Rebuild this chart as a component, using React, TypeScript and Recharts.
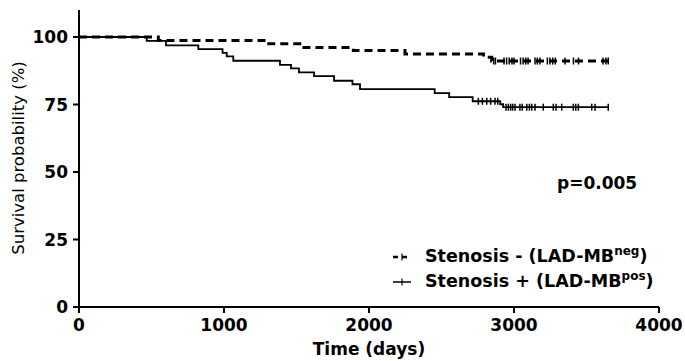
import {
  ComposedChart,
  Line,
  Scatter,
  XAxis,
  YAxis,
} from "recharts";

// Kaplan-Meier steps (days, survival %)
const negTimes = [0, 547, 1294, 1536, 1892, 2248, 2790, 2846, 3650];
const negSurv = [100, 98.7, 97.5, 96.1, 95.0, 93.7, 92.5, 91.1, 91.1];

const posTimes = [
  0, 467, 600, 823, 990, 1019, 1064, 1386, 1462, 1517, 1621, 1759, 1886, 1938,
  2453, 2553, 2715, 2905, 2925, 3650,
];
const posSurv = [
  100, 98.6, 96.9, 95.5, 94.1, 92.8, 91.2, 89.7, 88.4, 86.9, 85.5, 83.8, 82.5,
  80.7, 79.2, 77.7, 76.2, 75.1, 74.0, 74.0,
];

// censored observations
const negCensorTimes = [
  2860, 2872, 2931, 2949, 2967, 2986, 3000, 3045, 3063, 3081, 3097, 3145, 3161,
  3179, 3230, 3248, 3267, 3285, 3352, 3410, 3445, 3614, 3634, 3650,
];
const negCensorLevel = 91.1;

const posCensorEarlyTimes = [2754, 2782, 2812, 2839, 2869, 2888];
const posCensorEarlyLevel = 76.2;
const posCensorLateTimes = [
  2945, 2961, 2977, 2991, 3007, 3041, 3057, 3088, 3106, 3122, 3145, 3202, 3271,
  3290, 3329, 3409, 3426, 3444, 3536, 3559, 3650,
];
const posCensorLateLevel = 74.0;

const xTicks = [0, 1000, 2000, 3000, 4000];
const yTicks = [0, 25, 50, 75, 100];

const negData = negTimes.map((t, i) => ({ t, s: negSurv[i] }));
const posData = posTimes.map((t, i) => ({ t, s: posSurv[i] }));
const negCensor = negCensorTimes.map((t) => ({ t, s: negCensorLevel }));
const posCensor = [
  ...posCensorEarlyTimes.map((t) => ({ t, s: posCensorEarlyLevel })),
  ...posCensorLateTimes.map((t) => ({ t, s: posCensorLateLevel })),
];

const FONT = "'DejaVu Sans', sans-serif";

function CensorTick(props: any) {
  const { cx, cy } = props;
  if (cx == null || cy == null) return null;
  return (
    <line x1={cx} x2={cx} y1={cy - 3.5} y2={cy + 3.5} stroke="#000" strokeWidth={1.5} />
  );
}

function LegendBox() {
  const rows = [
    { dashed: true, text: "Stenosis - (LAD-MB", sup: "neg" },
    { dashed: false, text: "Stenosis + (LAD-MB", sup: "pos" },
  ];
  return (
    <div style={{ fontFamily: FONT, fontWeight: "bold", fontSize: 17.5, color: "#000" }}>
      {rows.map((r) => (
        <div key={r.sup} style={{ height: 25, lineHeight: "25px", whiteSpace: "nowrap", display: "flex", alignItems: "center" }}>
          <svg width={30} height={25} style={{ flex: "none" }}>
            <line
              x1={3}
              x2={21}
              y1={12}
              y2={12}
              stroke="#000"
              strokeWidth={r.dashed ? 2.5 : 1.5}
              strokeDasharray={r.dashed ? "5 4" : undefined}
            />
            <line x1={12} x2={12} y1={8.5} y2={15.5} stroke="#000" strokeWidth={1.2} />
          </svg>
          <span style={{ marginLeft: 5 }}>
            {r.text}
            <span style={{ fontSize: 12, position: "relative", top: -7 }}>{r.sup}</span>)
          </span>
        </div>
      ))}
    </div>
  );
}

export default function App() {
  return (
    <div style={{ position: "absolute", left: 0, top: 0, width: 685, height: 361, background: "#fff" }}>
      <ComposedChart
        width={685}
        height={361}
        margin={{ top: 10, right: 26, bottom: 0, left: 0 }}
      >
        <XAxis
          dataKey="t"
          type="number"
          domain={[0, 4000]}
          ticks={xTicks}
          allowDataOverflow
          height={54}
          tickSize={6}
          tickMargin={6}
          axisLine={{ stroke: "#000", strokeWidth: 2 }}
          tickLine={{ stroke: "#000", strokeWidth: 2 }}
          tick={{ fill: "#000", fontSize: 17, fontWeight: "bold", fontFamily: FONT }}
          label={{
            content: () => (
              <text
                x={369}
                y={355}
                textAnchor="middle"
                fontFamily={FONT}
                fontWeight="bold"
                fontSize={17}
                fill="#000"
              >
                Time (days)
              </text>
            ),
          }}
        />
        <YAxis
          dataKey="s"
          type="number"
          domain={[0, 110]}
          ticks={yTicks}
          width={79}
          tickSize={6}
          tickMargin={5}
          axisLine={{ stroke: "#000", strokeWidth: 2 }}
          tickLine={{ stroke: "#000", strokeWidth: 2 }}
          tick={{ fill: "#000", fontSize: 17, fontWeight: "bold", fontFamily: FONT }}
          label={{
            content: () => (
              <text
                x={18}
                y={158}
                transform="rotate(-90 18 158)"
                textAnchor="middle"
                dominantBaseline="central"
                fontFamily={FONT}
                fontSize={16.5}
                fill="#000"
              >
                Survival probability (%)
              </text>
            ),
          }}
        />
        <Line
          data={negData}
          dataKey="s"
          type="stepAfter"
          stroke="#000"
          strokeWidth={3}
          strokeDasharray="8 5"
          dot={false}
          activeDot={false}
          isAnimationActive={false}
          legendType="none"
        />
        <Line
          data={posData}
          dataKey="s"
          type="stepAfter"
          stroke="#000"
          strokeWidth={1.8}
          dot={false}
          activeDot={false}
          isAnimationActive={false}
          legendType="none"
        />
        <Scatter data={negCensor} dataKey="s" shape={<CensorTick />} isAnimationActive={false} legendType="none" />
        <Scatter data={posCensor} dataKey="s" shape={<CensorTick />} isAnimationActive={false} legendType="none" />
      </ComposedChart>
      <div style={{ position: "absolute", left: 390, top: 245 }}>
        <LegendBox />
      </div>
      <div
        style={{
          position: "absolute",
          left: 557,
          top: 173,
          fontFamily: FONT,
          fontWeight: "bold",
          fontSize: 17,
          color: "#000",
          lineHeight: "20px",
        }}
      >
        p=0.005
      </div>
    </div>
  );
}
